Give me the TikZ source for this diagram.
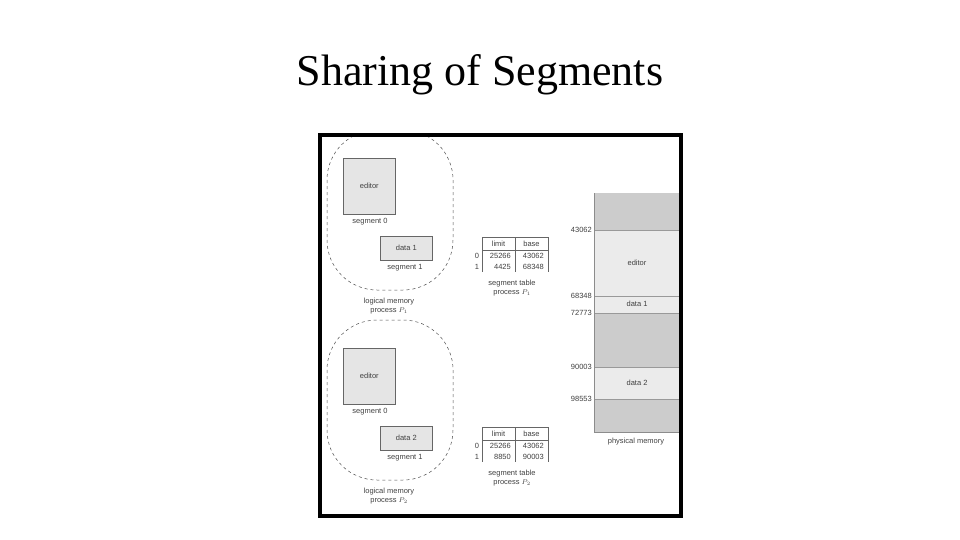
\documentclass[tikz,border=0pt]{standalone}
\usepackage{fontspec}
\setmainfont{Liberation Serif}
\newfontfamily\figfont{Liberation Sans}
\begin{document}
\begin{tikzpicture}[x=1pt,y=-1pt,
  lbl/.style={font=\figfont\fontsize{7.5}{8.5}\selectfont,text=black!75,inner sep=0pt},
  seg/.style={fill=black!10,draw=black!60,line width=0.6pt},
  used/.style={fill=black!8,draw=black!40,line width=0.5pt}]
\useasboundingbox (0,0) rectangle (960,540);
\node[font=\fontsize{44}{50}\selectfont,inner sep=0pt] (title) at (480,75) {Sharing of Segments};
\begin{scope}
\clip (322,137) rectangle (679,514);
\foreach \dy in {0,190}{
  \begin{scope}[yshift=-\dy]
  \draw[dashed,line width=0.5pt,black!70,rounded corners=50] (327,130) rectangle (453,290);
  \end{scope}
}
\fill[black!20] (594,193) rectangle (681,432);
\draw[used] (594,230) rectangle (681,296);
\draw[used] (594,296) rectangle (681,313);
\draw[used] (594,367) rectangle (681,399);
\draw[black!45,line width=0.6pt] (594,193) -- (594,432) -- (681,432);
\end{scope}
\draw[line width=4pt] (320,135) rectangle (681,516);
\foreach \dy/\n/\d in {0/1/data 1,190/2/data 2}{
  \begin{scope}[yshift=-\dy]
  \node[seg,minimum width=52,minimum height=56,anchor=north west,lbl] (ed\n) at (343,158) {editor};
  \node[lbl] (s0\n) at (370,222) {segment 0};
  \node[seg,minimum width=52,minimum height=24,anchor=north west,lbl] (da\n) at (380,236) {\d};
  \node[lbl] (s1\n) at (405,268) {segment 1};
  \node[lbl,align=center] (lm\n) at (389,306) {logical memory\\[1pt]process $P_{\n}$};
  \draw[black!60,line width=0.5pt] (482,250) rectangle (548,237) (515,237) -- (515,272) (482,250) -- (482,272) (548,250) -- (548,272);
  \node[lbl] (hl\n) at (498.5,243.5) {limit};
  \node[lbl] (hb\n) at (531.5,243.5) {base};
  \node[lbl] (r0\n) at (477,256) {0};
  \node[lbl] (r1\n) at (477,266.5) {1};
  \node[lbl,align=center] (st\n) at (512,288) {segment table\\[1pt]process $P_{\n}$};
  \end{scope}
}
\node[lbl,anchor=east] at (511,256) {25266};
\node[lbl,anchor=east] at (544,256) {43062};
\node[lbl,anchor=east] at (511,266.5) {4425};
\node[lbl,anchor=east] at (544,266.5) {68348};
\node[lbl,anchor=east] at (511,446) {25266};
\node[lbl,anchor=east] at (544,446) {43062};
\node[lbl,anchor=east] at (511,456.5) {8850};
\node[lbl,anchor=east] at (544,456.5) {90003};
\node[lbl] (pe) at (637,263) {editor};
\node[lbl] (pd1) at (637,304) {data 1};
\node[lbl] (pd2) at (637,383) {data 2};
\node[lbl] (pm) at (636,442) {physical memory};
\foreach \y/\t in {230/43062,296/68348,313/72773,367/90003,399/98553}
  \node[lbl,anchor=east] at (592,\y) {\t};
\end{tikzpicture}
\end{document}
